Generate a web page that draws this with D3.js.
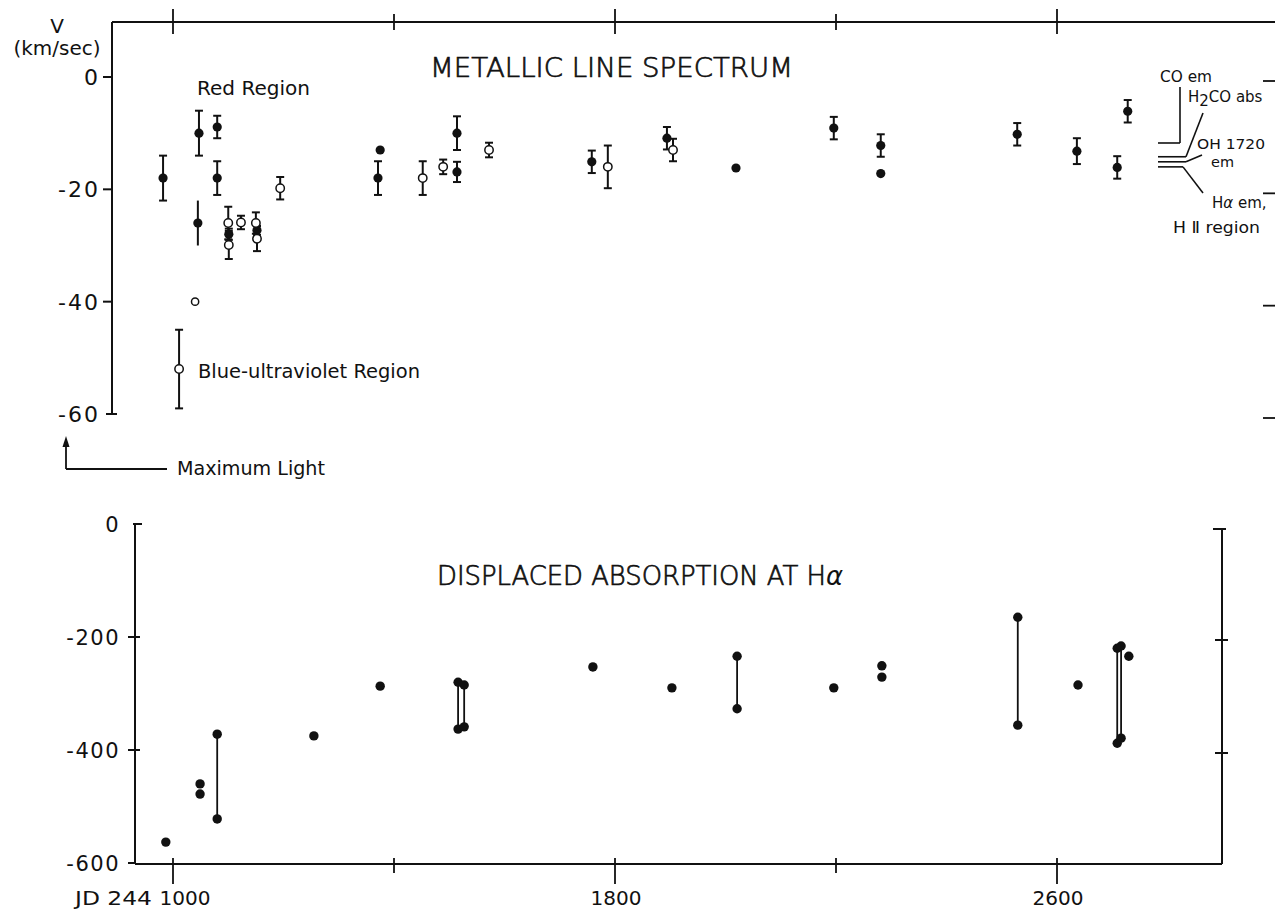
<!DOCTYPE html>
<html><head><meta charset="utf-8">
<script src="https://cdn.jsdelivr.net/npm/d3@7"></script>
<style>
body{margin:0;background:#fff;}
svg text{font-family:"DejaVu Sans","Liberation Sans",sans-serif;fill:#111;}
</style></head><body>
<svg id="c" width="1275" height="913"></svg>
<script>
// ---------- DATA ----------
const jdTicks = [1000, 1400, 1800, 2200, 2600];
const jdTickLabels = ["1000", "", "1800", "", "2600"];
const vTicksTop = [0, -20, -40, -60];
const vTicksBottom = [0, -200, -400, -600];

// Metallic line spectrum – red region (filled circles)
const redJD  = [982, 1047, 1080, 1080, 1045, 1101, 1152, 1375, 1371, 1514, 1514, 1758, 1894, 2019, 2196, 2281, 2281, 2528, 2636, 2709, 2728];
const redV   = [-18, -10, -8.9, -18, -26, -28, -27.3, -13, -18, -10, -16.9, -15.1, -10.9, -16.2, -9.1, -12.2, -17.2, -10.2, -13.2, -16.1, -6.1];
const redErr = [4, 4, 2, 3, 4, 1, 0.8, 0, 3, 3, 1.8, 2, 2, 0, 2, 2, 0, 2, 2.3, 2, 2];
const redCap = [1, 1, 1, 1, 0, 1, 1, 1, 1, 1, 1, 1, 1, 1, 1, 1, 1, 1, 1, 1, 1];

// Metallic line spectrum – blue-ultraviolet region (open circles)
const blueJD  = [1011, 1040, 1100, 1101, 1123, 1150, 1152, 1194, 1452, 1489, 1572, 1787, 1905];
const blueV   = [-52, -40, -26, -29.9, -25.9, -26, -28.8, -19.8, -18, -16, -13, -16, -13];
const blueErr = [7, 0, 2.9, 2.5, 1.2, 1.9, 2.2, 2, 3, 1.3, 1.3, 3.8, 2];

// Reference velocities (right-hand annotations)
const refLabels = ["CO em", "H2CO abs", "OH 1720 em", "Hα em, H II region"];
const refV = [-11.75, -14.2, -15.1, -16.0];

// Displaced absorption at H-alpha – single points
const haJD = [987, 1049, 1049, 1255, 1375, 1760, 1903, 2196, 2283, 2283, 2638, 2730];
const haV  = [-563, -460, -478, -375, -287, -253, -290, -290, -251, -271, -285, -234];
// connected pairs
const pairJD = [1080, 1516, 1527, 2021, 2529, 2709, 2716];
const pairV1 = [-372, -280, -285, -234, -165, -220, -216];
const pairV2 = [-522, -363, -359, -327, -356, -388, -379];

// ---------- SCALES ----------
const svg = d3.select("#c");
const x = d3.scaleLinear().domain([1000, 2600]).range([173, 1057]);
const yTop = d3.scaleLinear().domain([0, -60]).range([77, 414]);
const yBot = d3.scaleLinear().domain([0, -600]).range([524, 863]);

const ink = "#111";
const g = svg.append("g").attr("stroke", ink).attr("fill", "none");

function line(x1, y1, x2, y2, w) {
  g.append("line").attr("x1", x1).attr("y1", y1).attr("x2", x2).attr("y2", y2)
    .attr("stroke-width", w || 2);
}
function text(s, xx, yy, opts) {
  opts = opts || {};
  const t = svg.append("text").attr("x", xx).attr("y", yy)
    .attr("font-size", opts.size || 20)
    .attr("text-anchor", opts.anchor || "start")
    .text(s);
  if (opts.len) t.attr("textLength", opts.len).attr("lengthAdjust", "spacingAndGlyphs");
  if (opts.ls) t.attr("letter-spacing", opts.ls);
  if (opts.weight) t.attr("font-weight", opts.weight).attr("stroke", ink).attr("stroke-width", 0.7);
  return t;
}

// ---------- TOP PANEL FRAME ----------
const topLeft = 112, topY = 22;
line(topLeft, topY, 1275, topY);
line(topLeft, topY, topLeft, yTop(-60));
jdTicks.forEach((d, i) => {
  const big = jdTickLabels[i] !== "";
  line(x(d), topY - (big ? 13 : 8), x(d), topY + (big ? 12 : 8), 1.8);
});
vTicksTop.forEach(d => {
  if (d === -60) line(topLeft - 6, yTop(d), topLeft + 5, yTop(d));
  else line(topLeft - 9, yTop(d), topLeft, yTop(d));
  line(1263, yTop(d) + 4, 1275, yTop(d) + 4, 1.8);
  text(String(d), 100, yTop(d) + 8, {size: 22, anchor: "end", ls: 2});
});

text("V", 57, 33, {size: 20, anchor: "middle"});
text("(km/sec)", 57, 55, {size: 20, anchor: "middle", len: 87});
text("METALLIC LINE SPECTRUM", 430, 77, {size: 27, len: 363, weight: 300});
text("Red Region", 197, 95, {size: 20, len: 113});
text("Blue-ultraviolet Region", 198, 378, {size: 20, len: 222});
text("Maximum Light", 177, 475, {size: 20, len: 148});

// arrow to maximum light
line(66, 469, 167, 469, 1.8);
line(66, 469, 66, 444, 1.8);
svg.append("path").attr("d", "M66,436 L62.5,447 L69.5,447 Z").attr("fill", ink);

// ---------- TOP PANEL DATA ----------
const capW = 4;
function errBar(jd, v, e, cap) {
  if (!e) return;
  const cx = x(jd), y1 = yTop(v + e), y2 = yTop(v - e);
  line(cx, y1, cx, y2, 2);
  if (cap) { line(cx - capW, y1, cx + capW, y1, 2); line(cx - capW, y2, cx + capW, y2, 2); }
}
redJD.forEach((d, i) => errBar(d, redV[i], redErr[i], redCap[i]));
blueJD.forEach((d, i) => errBar(d, blueV[i], blueErr[i], 1));

svg.append("g").selectAll("circle").data(redJD).join("circle")
  .attr("cx", d => x(d)).attr("cy", (d, i) => yTop(redV[i])).attr("r", 4.6).attr("fill", ink);
svg.append("g").selectAll("circle").data(blueJD).join("circle")
  .attr("cx", d => x(d)).attr("cy", (d, i) => yTop(blueV[i]))
  .attr("r", (d, i) => blueErr[i] ? 4.2 : 3.6)
  .attr("fill", "#fff").attr("stroke", ink).attr("stroke-width", 1.5);

// ---------- REFERENCE ANNOTATIONS ----------
const rx0 = 1158;
// CO em
line(rx0, yTop(refV[0]), 1180, yTop(refV[0]), 1.6);
line(1180, yTop(refV[0]), 1180, 87, 1.6);
text("CO em", 1160, 82, {size: 15, len: 52});
// H2CO abs
line(rx0, yTop(refV[1]), 1186, yTop(refV[1]), 1.6);
line(1186, yTop(refV[1]), 1203, 113, 1.6);
const h2 = text("H", 1188, 102, {size: 15});
h2.append("tspan").attr("dy", 4).text("2");
h2.append("tspan").attr("dy", -4).text("CO abs");
// OH 1720 em
line(rx0, yTop(refV[2]), 1186, yTop(refV[2]), 1.6);
line(1186, yTop(refV[2]), 1202, 155, 1.6);
text("OH 1720", 1197, 149, {size: 14, len: 68});
text("em", 1211, 167, {size: 14, len: 23});
// H-alpha em
line(rx0, yTop(refV[3]), 1183, yTop(refV[3]), 1.6);
line(1183, yTop(refV[3]), 1203, 193, 1.6);
const ha = text("H", 1212, 208, {size: 15});
ha.append("tspan").attr("font-style", "italic").text("α");
ha.append("tspan").text(" em,");
text("H \u2161 region", 1173, 233, {size: 15, len: 87});

// ---------- BOTTOM PANEL FRAME ----------
const botLeft = 135, botRight = 1222, botY = 864;
line(botLeft, yBot(0), botLeft, botY);
line(botLeft, botY, botRight, botY);
line(botRight, 529, botRight, botY);
line(botRight - 9, 529, botRight + 4, 529);
[-200, -400].forEach(d => line(botRight - 7, yBot(d) + 3, botRight + 6, yBot(d) + 3));
vTicksBottom.forEach(d => {
  if (d === 0) line(botLeft - 2, yBot(d), botLeft + 7, yBot(d));
  else if (d === -600) line(botLeft - 7, yBot(d), botLeft, yBot(d));
  else line(botLeft - 7, yBot(d), botLeft + 5, yBot(d));
  text(String(d), 120, yBot(d) + 8, {size: 21, anchor: "end", ls: 1.5});
});
jdTicks.forEach((d, i) => {
  const big = jdTickLabels[i] !== "";
  line(x(d), botY - 6, x(d), botY + (big ? 20 : 9), 1.8);
  if (big) text(jdTickLabels[i], x(d) + (d === 1000 ? 12 : 1), 905, {size: 19, anchor: "middle", len: 51});
});
text("JD 244", 75, 905, {size: 19, len: 77});
const t2 = text("DISPLACED ABSORPTION AT H", 437, 585, {size: 26, weight: 300});
t2.append("tspan").attr("font-style", "italic").attr("font-weight", 400)
  .attr("stroke-width", 0).text("α");
t2.attr("textLength", 406).attr("lengthAdjust", "spacingAndGlyphs");

// ---------- BOTTOM PANEL DATA ----------
pairJD.forEach((d, i) => line(x(d), yBot(pairV1[i]), x(d), yBot(pairV2[i]), 1.8));
const dotsBot = haJD.map((d, i) => [d, haV[i]])
  .concat(pairJD.map((d, i) => [d, pairV1[i]]))
  .concat(pairJD.map((d, i) => [d, pairV2[i]]));
svg.append("g").selectAll("circle").data(dotsBot).join("circle")
  .attr("cx", d => x(d[0])).attr("cy", d => yBot(d[1])).attr("r", 4.7).attr("fill", ink);
</script>
</body></html>
